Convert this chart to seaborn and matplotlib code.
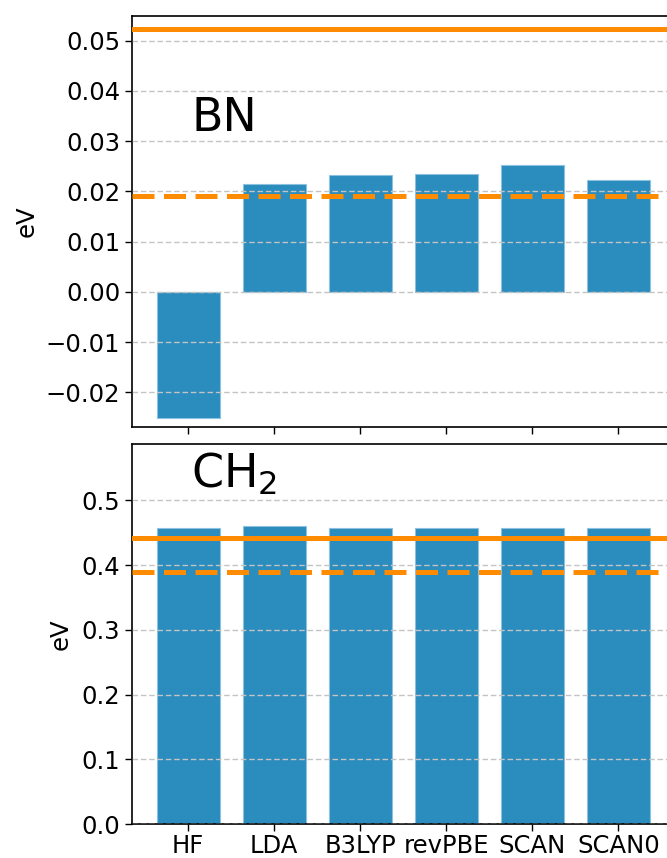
import matplotlib
matplotlib.use("Agg")
import matplotlib.pyplot as plt
import matplotlib.ticker as mticker
import seaborn as sns
import pandas as pd

methods = ["HF", "LDA", "B3LYP", "revPBE", "SCAN", "SCAN0"]
bn_values = [-0.0251, 0.0214, 0.0232, 0.0234, 0.0253, 0.0223]
ch2_values = [0.457, 0.460, 0.457, 0.457, 0.457, 0.457]
bn_ref = [0.0524, 0.0190]     # solid, dashed reference levels
ch2_ref = [0.442, 0.390]
bn_ticks = [-0.02, -0.01, 0.00, 0.01, 0.02, 0.03, 0.04, 0.05]
ch2_ticks = [0.0, 0.1, 0.2, 0.3, 0.4, 0.5]

sns.set_style("ticks")
plt.rcParams["font.family"] = ["DejaVu Sans"]
plt.rcParams["text.color"] = "black"
plt.rcParams["axes.labelcolor"] = "black"

BAR = "#2b8cbe"
ORANGE = "#ff8c00"
FS = 17.5

fig = plt.figure(figsize=(6.67, 8.58), dpi=100)
W, H = 667, 858
left = 132 / W
width = 1.02 - left
ax1 = fig.add_axes([left, 1 - 427 / H, width, (427 - 16) / H])
ax2 = fig.add_axes([left, 1 - 824 / H, width, (824 - 444) / H])


def fmt(decimals):
    def f(v, pos):
        s = f"{v:.{decimals}f}"
        return s.replace("-", "\u2212")
    return mticker.FuncFormatter(f)


def panel(ax, vals, refs, ticks, ylim, label, label_y, dec):
    df = pd.DataFrame({"method": methods, "value": vals})
    sns.barplot(data=df, x="method", y="value", ax=ax, color=BAR,
                saturation=1, width=0.73, edgecolor="#8cc2e0", linewidth=0.8)
    ax.set_axisbelow(False)
    ax.yaxis.grid(True, linestyle=(0, (4, 2)), color="#c4c4c4", linewidth=1.0, zorder=2.5)
    ax.axhline(refs[0], color=ORANGE, lw=3.6, zorder=4)
    ax.axhline(refs[1], color=ORANGE, lw=3.6, dashes=(4.4, 1.9), zorder=4)
    ax.set_xlim(-0.653, 5.72)
    ax.set_ylim(*ylim)
    ax.set_yticks(ticks)
    ax.yaxis.set_major_formatter(fmt(dec))
    ax.set_ylabel("eV", fontsize=FS, color="black")
    ax.set_xlabel("")
    ax.tick_params(axis="both", labelsize=FS, length=5, width=1,
                   colors="black", labelcolor="black")
    ax.tick_params(axis="x", pad=2)
    for s in ax.spines.values():
        s.set_color("black")
        s.set_linewidth(1.2)
    ax.spines["right"].set_visible(False)
    ax.text(0.108, label_y, label, transform=ax.transAxes, fontsize=33,
            ha="left", va="baseline", color="black")


panel(ax1, bn_values, bn_ref, bn_ticks, (-0.0269, 0.0549), "BN", 0.72, 2)
panel(ax2, ch2_values, ch2_ref, ch2_ticks, (0.0, 0.587), r"CH$_2$", 0.886, 1)
ax1.set_xticklabels([])
ax1.yaxis.set_label_coords(-0.171, 0.5)
ax2.yaxis.set_label_coords(-0.108, 0.5)

fig.savefig("out.png", dpi=100)
